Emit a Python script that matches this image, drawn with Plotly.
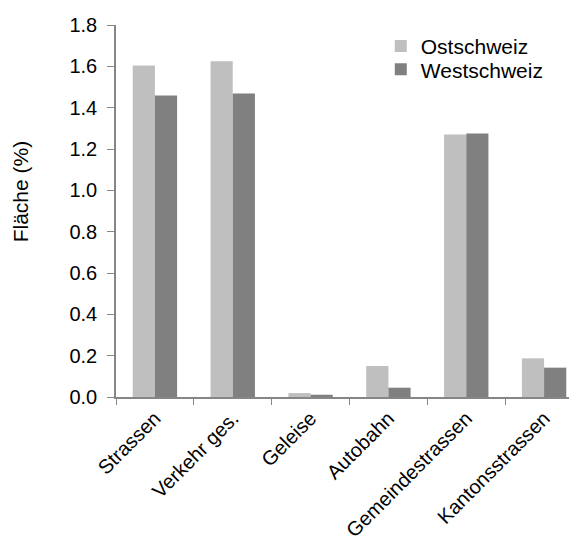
import plotly.graph_objects as go

categories = ["Strassen", "Verkehr ges.", "Geleise", "Autobahn", "Gemeindestrassen", "Kantonsstrassen"]
ostschweiz = [1.604, 1.625, 0.019, 0.150, 1.270, 0.187]
westschweiz = [1.459, 1.469, 0.011, 0.045, 1.275, 0.142]
series_names = ["Ostschweiz", "Westschweiz"]
y_title = "Fläche (%)"

FONT = "Liberation Sans, Arial, sans-serif"

fig = go.Figure()
fig.add_trace(go.Bar(x=categories, y=ostschweiz, name=series_names[0], legend="legend",
                     marker=dict(color="#BFBFBF", line=dict(width=0))))
fig.add_trace(go.Bar(x=categories, y=westschweiz, name=series_names[1], legend="legend2",
                     marker=dict(color="#808080", line=dict(width=0))))

leg_common = dict(xanchor="left", yanchor="top", font=dict(size=21),
                  bgcolor="rgba(0,0,0,0)", itemwidth=30)

fig.update_layout(
    width=577, height=547,
    margin=dict(l=108, r=2, t=17, b=158, autoexpand=False),
    paper_bgcolor="white", plot_bgcolor="white",
    barmode="group", bargap=0.43, bargroupgap=0,
    font=dict(family=FONT, size=20, color="#000000"),
    legend=dict(x=0.567, y=0.998, **leg_common),
    legend2=dict(x=0.567, y=0.935, **leg_common),
    showlegend=True,
    annotations=[dict(text=y_title, textangle=-90, xref="paper", yref="paper",
                      x=-0.2055, y=0.553, xanchor="center", yanchor="middle",
                      showarrow=False, font=dict(size=21))],
)
fig.update_xaxes(
    range=[-0.5, 5.5], tickangle=-45, tickson="boundaries",
    ticks="outside", ticklen=6, tickcolor="#868686",
    showline=True, linecolor="#868686", linewidth=1.5,
    showgrid=False, tickfont=dict(size=20), automargin=False,
)
fig.update_yaxes(
    range=[0, 1.8], dtick=0.2, tickformat=".1f",
    ticks="outside", ticklen=7, tickcolor="#868686",
    showline=True, linecolor="#868686", linewidth=1.5,
    showgrid=False, zeroline=False, tickfont=dict(size=20),
    ticklabelstandoff=6, automargin=False,
)

fig.write_html("out.html")
